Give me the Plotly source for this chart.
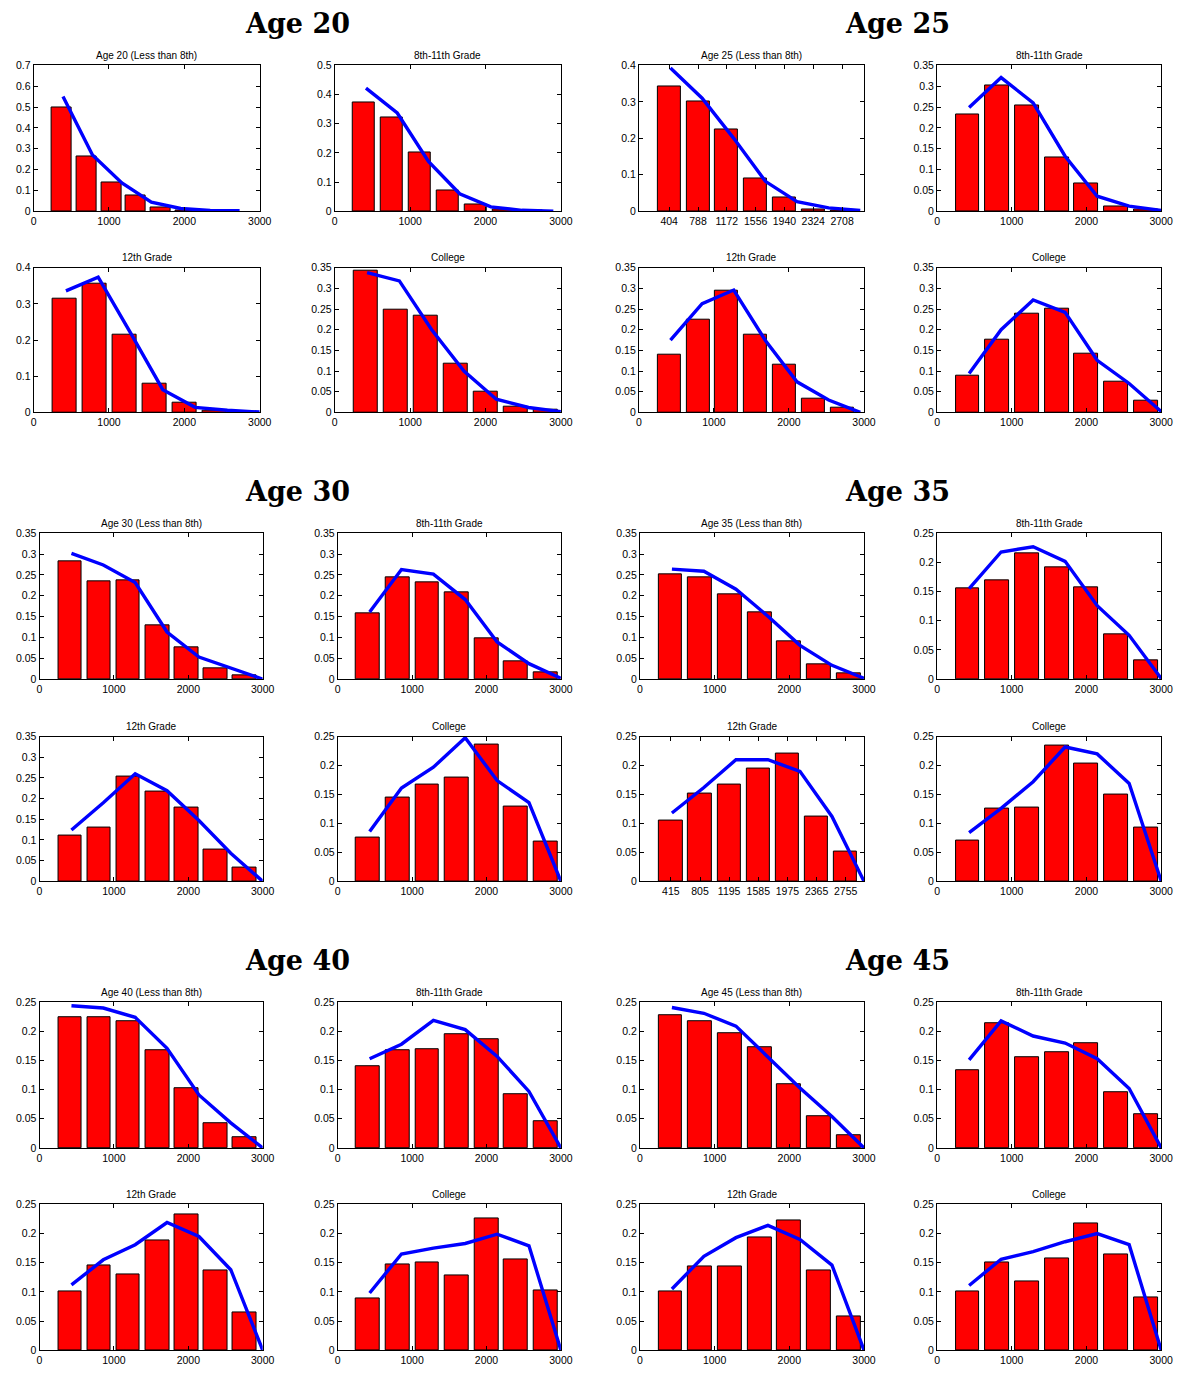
import plotly.graph_objects as go

W, H = 1189, 1374

EDUCATION = ["Less than 8th", "8th-11th Grade", "12th Grade", "College"]
AGES = [20, 25, 30, 35, 40, 45]

# histogram bin centres (monthly income)
BINS_20_LT8 = [369, 699, 1029, 1359, 1689, 2019, 2349]
BINS_20_811 = [389, 759, 1129, 1499, 1869, 2239, 2609]
BINS_25 = [404, 788, 1172, 1556, 1940, 2324, 2708]
BINS_35 = [415, 805, 1195, 1585, 1975, 2365, 2755]
BINS_STD = [407, 805, 1203, 1601, 1999, 2397, 2795]

# income grid of the fitted densities
GRID_2733 = [390, 781, 1171, 1562, 1952, 2343, 2733]
GRID_2900 = [414, 829, 1243, 1657, 2071, 2486, 2900]
GRID_2950 = [421, 843, 1264, 1686, 2107, 2529, 2950]
GRID_3000 = [429, 857, 1286, 1714, 2143, 2571, 3000]

# empirical shares, one list per education group
AGE20_BARS = [
    [0.499, 0.265, 0.137, 0.077, 0.018, 0.005, 0.002],
    [0.373, 0.322, 0.203, 0.072, 0.022, 0.006, 0.002],
    [0.314, 0.357, 0.214, 0.080, 0.028, 0.006, 0.002],
    [0.343, 0.248, 0.234, 0.118, 0.049, 0.013, 0.006],
]
AGE25_BARS = [
    [0.342, 0.300, 0.223, 0.090, 0.037, 0.005, 0.002],
    [0.233, 0.301, 0.254, 0.128, 0.067, 0.012, 0.005],
    [0.140, 0.224, 0.294, 0.188, 0.116, 0.032, 0.012],
    [0.090, 0.176, 0.239, 0.252, 0.143, 0.074, 0.028],
]
AGE30_BARS = [
    [0.283, 0.235, 0.237, 0.129, 0.075, 0.025, 0.010],
    [0.157, 0.244, 0.232, 0.208, 0.099, 0.043, 0.016],
    [0.110, 0.130, 0.254, 0.217, 0.179, 0.076, 0.033],
    [0.076, 0.144, 0.167, 0.180, 0.236, 0.129, 0.069],
]
AGE35_BARS = [
    [0.251, 0.244, 0.204, 0.161, 0.091, 0.035, 0.014],
    [0.155, 0.170, 0.215, 0.191, 0.158, 0.076, 0.032],
    [0.105, 0.151, 0.167, 0.194, 0.220, 0.111, 0.052],
    [0.070, 0.125, 0.128, 0.234, 0.204, 0.149, 0.092],
]
AGE40_BARS = [
    [0.225, 0.225, 0.217, 0.168, 0.102, 0.042, 0.019],
    [0.140, 0.167, 0.169, 0.195, 0.187, 0.092, 0.046],
    [0.101, 0.145, 0.130, 0.188, 0.232, 0.136, 0.065],
    [0.088, 0.147, 0.150, 0.128, 0.226, 0.155, 0.103],
]
AGE45_BARS = [
    [0.227, 0.217, 0.196, 0.173, 0.110, 0.054, 0.021],
    [0.133, 0.214, 0.155, 0.164, 0.179, 0.096, 0.057],
    [0.101, 0.144, 0.144, 0.194, 0.223, 0.137, 0.058],
    [0.100, 0.151, 0.118, 0.158, 0.217, 0.164, 0.091],
]

# model-implied shares
AGE20_FIT = [
    [0.551, 0.270, 0.136, 0.043, 0.013, 0.004, 0.002],
    [0.422, 0.337, 0.171, 0.060, 0.015, 0.003, 0.000],
    [0.336, 0.374, 0.220, 0.063, 0.014, 0.006, 0.001],
    [0.338, 0.318, 0.200, 0.100, 0.032, 0.012, 0.002],
]
AGE25_FIT = [
    [0.393, 0.310, 0.200, 0.082, 0.026, 0.009, 0.002],
    [0.249, 0.321, 0.260, 0.132, 0.036, 0.012, 0.002],
    [0.175, 0.263, 0.296, 0.174, 0.074, 0.030, 0.000],
    [0.094, 0.200, 0.272, 0.242, 0.126, 0.070, 0.002],
]
AGE30_FIT = [
    [0.302, 0.274, 0.232, 0.113, 0.053, 0.027, 0.000],
    [0.161, 0.263, 0.252, 0.191, 0.089, 0.037, 0.002],
    [0.124, 0.190, 0.260, 0.219, 0.147, 0.068, 0.000],
    [0.086, 0.161, 0.197, 0.248, 0.174, 0.136, 0.000],
]
AGE35_FIT = [
    [0.264, 0.259, 0.216, 0.151, 0.081, 0.033, 0.002],
    [0.155, 0.218, 0.227, 0.202, 0.126, 0.075, 0.001],
    [0.118, 0.162, 0.210, 0.210, 0.190, 0.112, 0.000],
    [0.084, 0.126, 0.172, 0.232, 0.220, 0.169, 0.000],
]
AGE40_FIT = [
    [0.244, 0.240, 0.224, 0.171, 0.091, 0.043, 0.000],
    [0.153, 0.178, 0.219, 0.203, 0.157, 0.097, 0.000],
    [0.112, 0.155, 0.181, 0.219, 0.195, 0.138, 0.000],
    [0.098, 0.165, 0.175, 0.183, 0.199, 0.179, 0.000],
]
AGE45_FIT = [
    [0.241, 0.231, 0.209, 0.157, 0.103, 0.054, 0.000],
    [0.151, 0.218, 0.192, 0.180, 0.153, 0.102, 0.000],
    [0.105, 0.161, 0.193, 0.214, 0.190, 0.146, 0.000],
    [0.111, 0.156, 0.169, 0.186, 0.200, 0.181, 0.000],
]

BARS = {20: AGE20_BARS, 25: AGE25_BARS, 30: AGE30_BARS,
        35: AGE35_BARS, 40: AGE40_BARS, 45: AGE45_BARS}
FITS = {20: AGE20_FIT, 25: AGE25_FIT, 30: AGE30_FIT,
        35: AGE35_FIT, 40: AGE40_FIT, 45: AGE45_FIT}
BIN_SETS = {
    20: [BINS_20_LT8, BINS_20_811, BINS_STD, BINS_STD],
    25: [BINS_25, BINS_STD, BINS_25, BINS_STD],
    30: [BINS_35, BINS_STD, BINS_35, BINS_STD],
    35: [BINS_STD, BINS_STD, BINS_35, BINS_STD],
    40: [BINS_35, BINS_STD, BINS_35, BINS_STD],
    45: [BINS_STD, BINS_STD, BINS_STD, BINS_STD],
}
GRID_SETS = {
    20: [GRID_2733, GRID_2900, GRID_3000, GRID_3000],
    25: [GRID_2950, GRID_3000, GRID_2950, GRID_3000],
    30: [GRID_3000] * 4, 35: [GRID_3000] * 4,
    40: [GRID_3000] * 4, 45: [GRID_3000] * 4,
}
Y_MAX = {
    20: [0.7, 0.5, 0.4, 0.35],
    25: [0.4, 0.35, 0.35, 0.35],
    30: [0.35, 0.35, 0.35, 0.25],
    35: [0.35, 0.25, 0.25, 0.25],
    40: [0.25, 0.25, 0.25, 0.25],
    45: [0.25, 0.25, 0.25, 0.25],
}
# panels whose x ticks sit on the bin centres
LABELLED_BINS = {(25, 0): BINS_25, (35, 2): BINS_35}

# pixel geometry of the panel grid
ROW_TOP = [60, 264, 532, 737, 1005, 1209]
ROW_BOT = [207, 410, 679, 883, 1152, 1356]
COLS_TOP_BLOCK = [(31, 260), (336, 565), (644, 872), (946, 1173)]
COLS_LOWER = [(37, 263), (339, 565), (645, 872), (946, 1173)]
SECTION_Y = [18, 490, 963]
SECTION_X = [298, 906]

SANS = "Liberation Sans Narrow, Arial Narrow, Liberation Sans, Arial"
TICK_FONT = dict(family=SANS, size=10.5, color="black")

fig = go.Figure()
layout = dict(width=W, height=H, margin=dict(l=0, r=0, t=0, b=0),
              paper_bgcolor="white", plot_bgcolor="white",
              showlegend=False, bargap=0, annotations=[])

n = 0
for block in range(3):
    for half in range(2):
        age = AGES[block * 2 + half]
        layout["annotations"].append(dict(
            text="<b>Age %d</b>" % age, xref="paper", yref="paper",
            x=SECTION_X[half] / W, y=1 - SECTION_Y[block] / H,
            xanchor="center", yanchor="middle", showarrow=False,
            font=dict(family="DejaVu Serif", size=27, color="black")))
        for k in range(4):
            n += 1
            r = block * 2 + k // 2
            c = half * 2 + k % 2
            cols = COLS_TOP_BLOCK if block == 0 else COLS_LOWER
            x0, x1 = cols[c]
            y0, y1 = ROW_TOP[r], ROW_BOT[r]
            xs = BIN_SETS[age][k]
            grid = GRID_SETS[age][k]
            width = 0.8 * (xs[1] - xs[0])
            xa = "x" if n == 1 else "x%d" % n
            ya = "y" if n == 1 else "y%d" % n

            fig.add_trace(go.Bar(
                x=xs, y=BARS[age][k], width=width, xaxis=xa, yaxis=ya,
                marker=dict(color="#ff0000", line=dict(color="black", width=1))))
            fig.add_trace(go.Scatter(
                x=grid, y=FITS[age][k], mode="lines", xaxis=xa, yaxis=ya,
                line=dict(color="#0000ff", width=3.4)))

            ymax = Y_MAX[age][k]
            axis_common = dict(showline=True, linecolor="black", linewidth=1,
                               mirror="ticks", ticks="inside", ticklen=4,
                               tickcolor="black", showgrid=False, zeroline=False,
                               tickfont=TICK_FONT)
            xaxis = dict(domain=[x0 / W, x1 / W], range=[0, 3000],
                         anchor=ya, **axis_common)
            if (age, k) in LABELLED_BINS:
                xaxis.update(tickmode="array", tickvals=LABELLED_BINS[(age, k)])
            else:
                xaxis.update(tickmode="linear", tick0=0, dtick=1000, tickformat="d")
            yaxis = dict(domain=[1 - y1 / H, 1 - y0 / H], range=[0, ymax],
                         anchor=xa, tickmode="linear", tick0=0,
                         dtick=0.1 if ymax >= 0.4 else 0.05, **axis_common)
            layout["xaxis" if n == 1 else "xaxis%d" % n] = xaxis
            layout["yaxis" if n == 1 else "yaxis%d" % n] = yaxis

            title = "Age %d (%s)" % (age, EDUCATION[0]) if k == 0 else EDUCATION[k]
            layout["annotations"].append(dict(
                text=title, xref="paper", yref="paper",
                x=(x0 + x1) / 2 / W, y=1 - (y0 - 10) / H,
                xanchor="center", yanchor="middle", showarrow=False,
                font=dict(family=SANS, size=10, color="black")))

fig.update_layout(**layout)
# page without body margin so the figure fills the window exactly
fig.write_html("out.html",
               post_script="document.body.style.margin='0';"
                           "document.body.style.overflow='hidden';")
